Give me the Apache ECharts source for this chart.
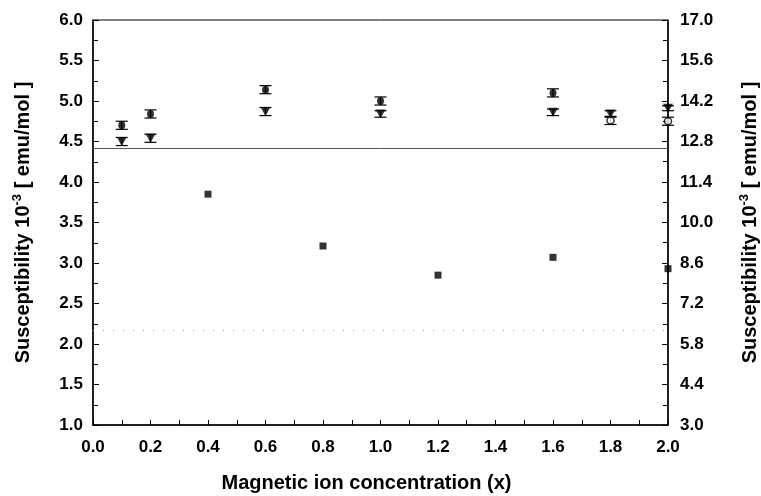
<!DOCTYPE html>
<html>
<head>
<meta charset="utf-8">
<script src="https://cdn.jsdelivr.net/npm/echarts@6/dist/echarts.min.js"></script>
<style>
  html, body { margin: 0; padding: 0; background: #fff; }
  #chart { width: 761px; height: 496px; }
</style>
</head>
<body>
<div id="chart"></div>
<script>
// filled circles with error bars
const circleX = [0.1, 0.2, 0.6, 1.0, 1.6];
const circleY = [4.70, 4.84, 5.14, 5.00, 5.10];
const circleErr = [0.05, 0.05, 0.05, 0.05, 0.05];

// open circles with error bars
const openX = [1.8, 2.0];
const openY = [4.76, 4.75];
const openErr = [0.05, 0.05];

// down triangles with error bars
const triX = [0.1, 0.2, 0.6, 1.0, 1.6, 1.8, 2.0];
const triY = [4.50, 4.54, 4.87, 4.84, 4.86, 4.84, 4.91];
const triErr = [0.05, 0.05, 0.05, 0.04, 0.04, 0.04, 0.03];

// filled squares
const squareX = [0.4, 0.8, 1.2, 1.6, 2.0];
const squareY = [3.85, 3.21, 2.85, 3.07, 2.93];

// horizontal reference levels
const solidLevel = 4.42;
const dottedLevel = 2.17;

// axis settings
const xTicks = { min: 0, max: 2, interval: 0.2 };
const leftTicks = { min: 1, max: 6, interval: 0.5 };
const rightTicks = { min: 3, max: 17, interval: 1.4 };

(function(){
  const font = "'Liberation Sans', Arial, sans-serif";
  const chart = echarts.init(document.getElementById("chart"));

  const pairs = (xs, ys) => xs.map((x, i) => [x, ys[i]]);
  const errData = (xs, ys, es) => xs.map((x, i) => [x, ys[i] - es[i], ys[i] + es[i]]);

  function errorBars(params, api) {
    const x = api.value(0);
    const lo = api.coord([x, api.value(1)]);
    const hi = api.coord([x, api.value(2)]);
    const hw = 6;
    const st = { stroke: "#000", lineWidth: 1.2 };
    return {
      type: "group",
      children: [
        { type: "line", shape: { x1: lo[0], y1: lo[1], x2: hi[0], y2: hi[1] }, style: st },
        { type: "line", shape: { x1: lo[0] - hw, y1: lo[1], x2: lo[0] + hw, y2: lo[1] }, style: st },
        { type: "line", shape: { x1: hi[0] - hw, y1: hi[1], x2: hi[0] + hw, y2: hi[1] }, style: st }
      ]
    };
  }

  const errSeries = (xs, ys, es) => ({
    type: "custom", renderItem: errorBars, clip: false, silent: true,
    encode: { x: 0, y: [1, 2] }, data: errData(xs, ys, es), z: 3
  });

  const labelStyle = { fontFamily: font, fontSize: 17, fontWeight: "bold", color: "#000" };
  const nameStyle = {
    fontFamily: font, fontSize: 20, fontWeight: "bold", color: "#000", lineHeight: 24,
    rich: { sup: { fontFamily: font, fontSize: 13, fontWeight: "bold", color: "#000", verticalAlign: "top", lineHeight: 24 } }
  };
  const yName = "Susceptibility 10{sup|-3} [ emu/mol ]";

  const option = {
    animation: false,
    grid: {
      left: 93, right: 93, top: 20, bottom: 71, outerBoundsMode: "none",
      show: true, borderColor: "#000", borderWidth: 1
    },
    xAxis: {
      type: "value", min: xTicks.min, max: xTicks.max, interval: xTicks.interval,
      name: "Magnetic ion concentration (x)", nameLocation: "middle", nameGap: 48,
      nameTextStyle: { fontFamily: font, fontSize: 20, fontWeight: "bold", color: "#000", padding: [0, 28, 0, 0] },
      axisLine: { lineStyle: { color: "#000", width: 1.5 } },
      axisTick: { inside: true, length: 5, lineStyle: { color: "#000" } },
      minorTick: { show: true, splitNumber: 2, length: 5, lineStyle: { color: "#000" } },
      splitLine: { show: false },
      axisLabel: Object.assign({ margin: 14, formatter: v => v.toFixed(1) }, labelStyle)
    },
    yAxis: [
      {
        type: "value", position: "left", min: leftTicks.min, max: leftTicks.max, interval: leftTicks.interval,
        name: yName, nameLocation: "middle", nameRotate: 90, nameGap: 58, nameTextStyle: nameStyle,
        axisLine: { show: true, lineStyle: { color: "#000", width: 1.5 } },
        axisTick: { inside: true, length: 6, lineStyle: { color: "#000" } },
        minorTick: { show: true, splitNumber: 2, length: 5, lineStyle: { color: "#000" } },
        splitLine: { show: false },
        axisLabel: Object.assign({ margin: 10, formatter: v => v.toFixed(1) }, labelStyle)
      },
      {
        type: "value", position: "right", min: rightTicks.min, max: rightTicks.max, interval: rightTicks.interval,
        name: yName, nameLocation: "middle", nameRotate: 90, nameGap: 70, nameTextStyle: nameStyle,
        axisLine: { show: true, lineStyle: { color: "#000", width: 1.5 } },
        axisTick: { inside: true, length: 6, lineStyle: { color: "#000" } },
        minorTick: { show: true, splitNumber: 2, length: 5, lineStyle: { color: "#000" } },
        splitLine: { show: false },
        axisLabel: Object.assign({ margin: 12, formatter: v => v.toFixed(1) }, labelStyle)
      }
    ],
    series: [
      {
        name: "levels", type: "line", data: [], silent: true,
        markLine: {
          symbol: "none", silent: true, label: { show: false },
          data: [
            { yAxis: solidLevel, lineStyle: { color: "#555", width: 1, type: "solid" } },
            { yAxis: dottedLevel, lineStyle: { color: "#999", width: 1, type: [1, 9] } }
          ]
        }
      },
      errSeries(circleX, circleY, circleErr),
      errSeries(openX, openY, openErr),
      errSeries(triX, triY, triErr),
      {
        name: "circle", type: "scatter", clip: false, z: 4, data: pairs(circleX, circleY),
        symbol: "circle", symbolSize: [7, 8], itemStyle: { color: "#000" }
      },
      {
        name: "open", type: "scatter", clip: false, z: 4, data: pairs(openX, openY),
        symbol: "circle", symbolSize: 7, itemStyle: { color: "#fff", borderColor: "#000", borderWidth: 1.5 }
      },
      {
        name: "triangle", type: "scatter", clip: false, z: 4, data: pairs(triX, triY),
        symbol: "triangle", symbolRotate: 180, symbolSize: [10, 9], itemStyle: { color: "#000" }
      },
      {
        name: "square", type: "scatter", clip: false, z: 4, data: pairs(squareX, squareY),
        symbol: "rect", symbolSize: 7, itemStyle: { color: "#000" }
      }
    ]
  };

  chart.setOption(option);
  window.addEventListener("resize", () => chart.resize());
})();
</script>
</body>
</html>
